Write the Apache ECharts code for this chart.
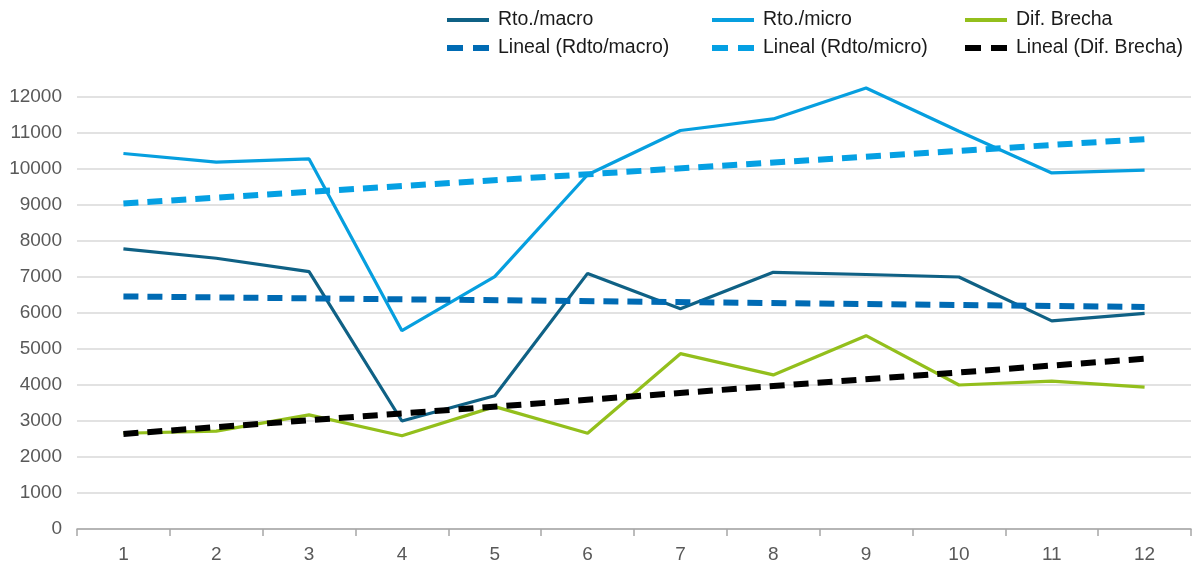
<!DOCTYPE html>
<html>
<head>
<meta charset="utf-8">
<script src="https://cdn.jsdelivr.net/npm/echarts@6/dist/echarts.min.js"></script>
<style>html,body{margin:0;padding:0;background:#fff}#c{width:1196px;height:564px}</style>
</head>
<body>
<div id="c"></div>
<script>
const categories = ['1','2','3','4','5','6','7','8','9','10','11','12'];
const rtoMacro = [7780, 7520, 7150, 3000, 3700, 7100, 6120, 7130, 7070, 7000, 5780, 5990];
const rtoMicro = [10430, 10190, 10280, 5510, 7010, 9840, 11070, 11390, 12250, 11050, 9890, 9970];
const difBrecha = [2660, 2720, 3170, 2590, 3400, 2660, 4870, 4280, 5370, 4000, 4110, 3940];
// trend lines: endpoints (straight lines between)
const trendMacro = [6460, null, null, null, null, null, null, null, null, null, null, 6170];
const trendMicro = [9040, null, null, null, null, null, null, null, null, null, null, 10830];
const trendBrecha = [2640, null, null, null, null, null, null, null, null, null, null, 4730];

const names = ['Rto./macro','Rto./micro','Dif. Brecha','Lineal (Rdto/macro)','Lineal (Rdto/micro)','Lineal (Dif. Brecha)'];
const colors = ['#0f6185','#069fdf','#93bf1c','#006bb4','#05a0e3','#000000'];
const FONT = 'Liberation Sans, Arial, sans-serif';
const dashIcon = 'path://M0,0H16V6H0Z M26,0H42V6H26Z';

function legendCol(left, items) {
  return {
    orient: 'vertical', left: left, top: 10, padding: 0, itemGap: 8,
    itemWidth: 42, itemHeight: 6,
    textStyle: {fontFamily: FONT, fontSize: 19.5, color: '#1a1a1a', lineHeight: 20, padding:[0,0,0,4]},
    data: items
  };
}

const chart = echarts.init(document.getElementById('c'), null, {renderer: 'canvas'});
chart.setOption({
  animation: false,
  backgroundColor: '#fff',
  legend: [
    legendCol(447, [{name: names[0], icon: 'path://M0,0H42V4H0Z'}, {name: names[3], icon: dashIcon}]),
    legendCol(712, [{name: names[1], icon: 'path://M0,0H42V4H0Z'}, {name: names[4], icon: dashIcon}]),
    legendCol(965, [{name: names[2], icon: 'path://M0,0H42V4H0Z'}, {name: names[5], icon: dashIcon}])
  ],
  grid: {left: 77, right: 5, top: 97, bottom: 35, containLabel: false},
  xAxis: {
    type: 'category', data: categories, boundaryGap: true,
    axisLine: {lineStyle: {color: '#a6a6a6', width: 1.5}},
    axisTick: {show: true, length: 7, lineStyle: {color: '#a6a6a6', width: 1.5}},
    axisLabel: {fontFamily: FONT, fontSize: 19, color: '#595959', margin: 16},
    splitLine: {show: false}
  },
  yAxis: {
    type: 'value', min: 0, max: 12000, interval: 1000,
    axisLine: {show: false}, axisTick: {show: false},
    axisLabel: {fontFamily: FONT, fontSize: 19, color: '#595959', margin: 15, formatter: function (v) { return String(v); }},
    splitLine: {lineStyle: {color: '#d9d9d9', width: 1.5}}
  },
  series: [
    {name: names[0], type: 'line', data: rtoMacro, color: colors[0], symbol: 'none', clip: false, lineStyle: {width: 3.2, color: colors[0]}, z: 2},
    {name: names[1], type: 'line', data: rtoMicro, color: colors[1], symbol: 'none', clip: false, lineStyle: {width: 3.2, color: colors[1]}, z: 2},
    {name: names[2], type: 'line', data: difBrecha, color: colors[2], symbol: 'none', clip: false, lineStyle: {width: 3.2, color: colors[2]}, z: 2},
    {name: names[3], type: 'line', data: trendMacro, color: colors[3], connectNulls: true, symbol: 'none', clip: false, lineStyle: {width: 6, color: colors[3], type: [15, 9]}, z: 3},
    {name: names[4], type: 'line', data: trendMicro, color: colors[4], connectNulls: true, symbol: 'none', clip: false, lineStyle: {width: 6, color: colors[4], type: [15, 9]}, z: 3},
    {name: names[5], type: 'line', data: trendBrecha, color: colors[5], connectNulls: true, symbol: 'none', clip: false, lineStyle: {width: 6, color: colors[5], type: [15, 9]}, z: 3}
  ]
});
</script>
</body>
</html>
